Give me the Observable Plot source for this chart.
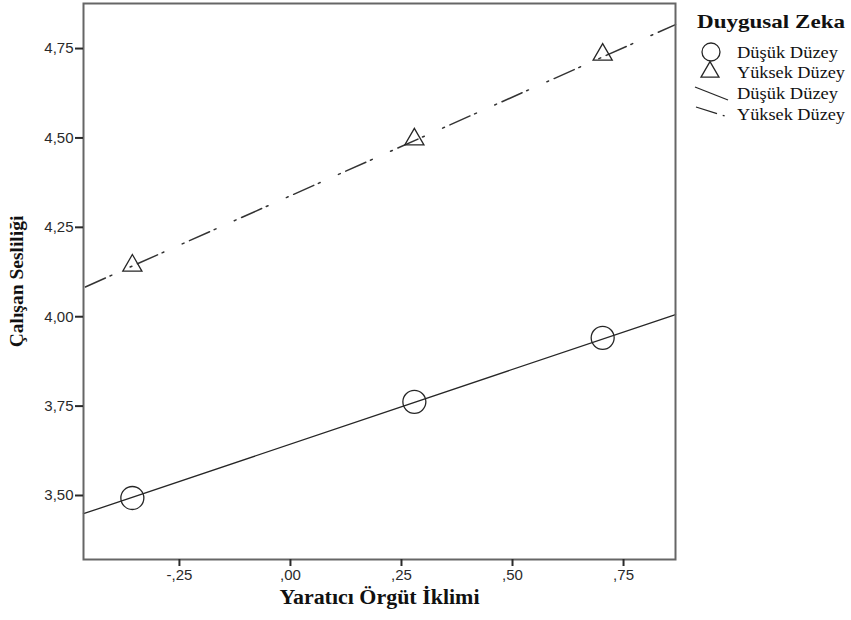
<!DOCTYPE html>
<html>
<head>
<meta charset="utf-8">
<script src="https://cdn.jsdelivr.net/npm/d3@7"></script>
<script src="https://cdn.jsdelivr.net/npm/@observablehq/plot@0.6"></script>
<style>
  html, body { margin: 0; padding: 0; background: #fff; }
  #chart { position: relative; width: 851px; height: 620px; }
</style>
</head>
<body>
<div id="chart"></div>
<script>
// ---- data ----
const groups = ["Düşük Düzey", "Yüksek Düzey"];
const xValues = [-0.356, 0.279, 0.703];
const lowMeans = [3.493, 3.762, 3.941];
const highMeans = [4.143, 4.496, 4.733];
const lineX = [-0.466, 0.867];
const lowFit = [3.449, 4.006];
const highFit = [4.081, 4.817];
const xTicks = [-0.25, 0, 0.25, 0.5, 0.75];
const yTicks = [3.5, 3.75, 4, 4.25, 4.5, 4.75];
const xTitle = "Yaratıcı Örgüt İklimi";
const yTitle = "Çalışan Sesliliği";
const legendTitle = "Duygusal Zeka";

// ---- tables built from the arrays ----
const points = [
  ...xValues.map((x, i) => ({x, y: lowMeans[i], group: groups[0]})),
  ...xValues.map((x, i) => ({x, y: highMeans[i], group: groups[1]}))
];
const lowLine = lineX.map((x, i) => ({x, y: lowFit[i]}));
const highLine = lineX.map((x, i) => ({x, y: highFit[i]}));

const fmtY = d => d.toFixed(2).replace(".", ",");
const fmtX = d => d.toFixed(2).replace(".", ",").replace(/^(-?)0,/, "$1,");

const serif = "'Liberation Serif', 'Times New Roman', serif";
const sans = "'Liberation Sans', Arial, sans-serif";

const plot = Plot.plot({
  width: 851,
  height: 620,
  marginLeft: 83,
  marginRight: 176,
  marginTop: 3,
  marginBottom: 61,
  style: {fontFamily: sans, fontSize: "14.5px", color: "#2a2a2a", background: "#fff"},
  x: {domain: [lineX[0], lineX[1]]},
  y: {domain: [3.321, 4.876]},
  marks: [
    Plot.line(lowLine, {x: "x", y: "y", stroke: "#262626", strokeWidth: 1.3}),
    Plot.line(highLine, {x: "x", y: "y", stroke: "#333", strokeWidth: 1.5, strokeDasharray: "2,6,22,5,2,20", strokeDashoffset: 6}),
    Plot.dot(points.filter(d => d.group === groups[0]), {x: "x", y: "y", r: 11.5, symbol: "circle", stroke: "#262626", strokeWidth: 1.3, fill: "none"}),
    Plot.dot(points.filter(d => d.group === groups[1]), {x: "x", y: "y", r: 7.1, symbol: "triangle", stroke: "#262626", strokeWidth: 1.3, fill: "none"}),
    Plot.frame({stroke: "#666", strokeWidth: 2}),
    Plot.axisX({ticks: xTicks, tickFormat: fmtX, tickSize: 7, tickPadding: 3, label: null, strokeWidth: 2, fontSize: 15}),
    Plot.axisY({ticks: yTicks, tickFormat: fmtY, tickSize: 8, tickPadding: 2, label: null, strokeWidth: 2, fontSize: 15}),
    Plot.text([xTitle], {frameAnchor: "bottom", dy: 44, text: d => d, fontFamily: serif, fontWeight: "bold", fontSize: 20, fill: "#111"}),
    Plot.text([yTitle], {frameAnchor: "left", dx: -67, rotate: -90, textAnchor: "middle", text: d => d, fontFamily: serif, fontWeight: "bold", fontSize: 19.5, fill: "#111"})
  ]
});
document.getElementById("chart").appendChild(plot);

// stretch horizontal title to reference width
const svg = d3.select(plot);
svg.selectAll("text").filter(function() { return this.textContent === xTitle; })
  .attr("textLength", 200).attr("lengthAdjust", "spacingAndGlyphs");

// ---- legend ----
const lg = svg.append("g").attr("font-family", serif).attr("fill", "#111").attr("text-anchor", "start");
lg.append("text").attr("x", 697).attr("y", 28).attr("font-weight", "bold").attr("font-size", 19)
  .attr("textLength", 148).attr("lengthAdjust", "spacingAndGlyphs").text(legendTitle);
const legendItems = [
  {label: groups[0], kind: "circle", y: 58},
  {label: groups[1], kind: "triangle", y: 78},
  {label: groups[0], kind: "solid", y: 99},
  {label: groups[1], kind: "dashdot", y: 120}
];
legendItems.forEach(it => {
  if (it.kind === "circle") {
    lg.append("circle").attr("cx", 711).attr("cy", it.y - 6).attr("r", 9)
      .attr("fill", "none").attr("stroke", "#262626").attr("stroke-width", 1.3);
  } else if (it.kind === "triangle") {
    lg.append("path").attr("d", d3.symbol(d3.symbolTriangle, 140)())
      .attr("transform", `translate(710,${it.y - 6})`)
      .attr("fill", "none").attr("stroke", "#262626").attr("stroke-width", 1.3);
  } else if (it.kind === "solid") {
    lg.append("line").attr("x1", 695).attr("y1", it.y - 12).attr("x2", 728).attr("y2", it.y + 1)
      .attr("stroke", "#262626").attr("stroke-width", 1.3);
  } else {
    lg.append("line").attr("x1", 696).attr("y1", it.y - 13).attr("x2", 728).attr("y2", it.y - 3)
      .attr("stroke", "#262626").attr("stroke-width", 1.3).attr("stroke-dasharray", "22,6,2,20");
  }
  lg.append("text").attr("x", 737).attr("y", it.y).attr("font-size", 16)
    .attr("textLength", it.label === groups[0] ? 101 : 108).attr("lengthAdjust", "spacingAndGlyphs")
    .text(it.label);
});
</script>
</body>
</html>
